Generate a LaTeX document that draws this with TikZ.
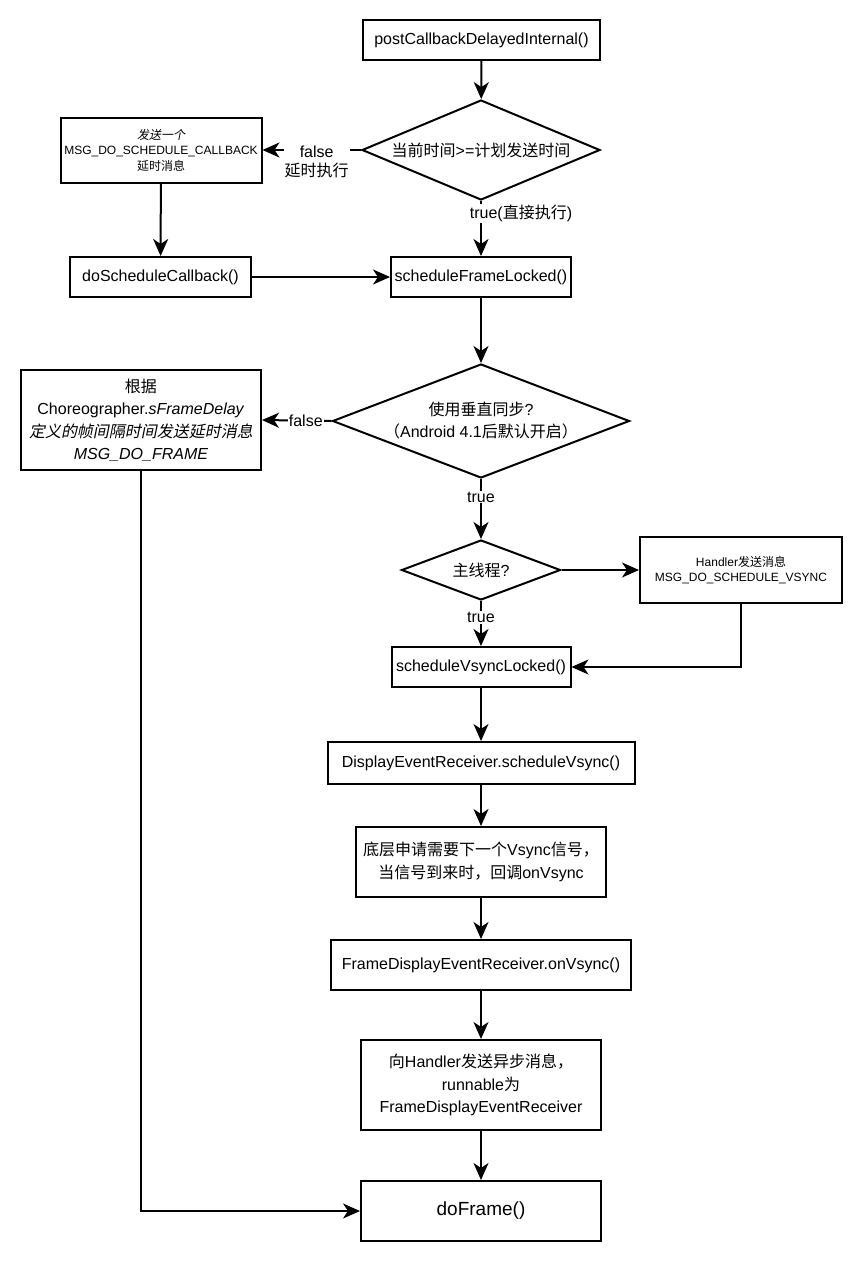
\documentclass[tikz,border=0pt]{standalone}
\usepackage{fontspec}
\setmainfont{Liberation Sans}
\newfontfamily\cjkfont{Noto Sans CJK SC}
\newfontfamily\cjkitfont{Noto Sans CJK SC}[FakeSlant=0.2]
\newcommand\zh[1]{{\cjkfont #1}}
\newcommand\zhi[1]{{\cjkitfont #1}}
\usetikzlibrary{arrows.meta,shapes.geometric}
\begin{document}
\begin{tikzpicture}[x=1pt,y=-1pt,
  box/.style={draw, line width=2pt, inner sep=0pt, align=center, font=\fontsize{16}{22.5}\selectfont},
  smallbox/.style={box, font=\fontsize{12}{15.5}\selectfont},
  dia/.style={draw, diamond, line width=2pt, inner sep=0pt},
  dtext/.style={align=center, font=\fontsize{16}{22}\selectfont},
  lbl/.style={fill=white, inner sep=1pt, align=center, font=\fontsize{16}{19}\selectfont},
  arr/.style={line width=2pt, -{Stealth[length=17pt, width=15pt, inset=5pt]}}]
\useasboundingbox (0,0) rectangle (862,1262);
\fill[white] (0,0) rectangle (862,1262);

\node[box, minimum width=237, minimum height=40] (post) at (481.5,40) {postCallbackDelayedInternal()};
\node[dia, minimum width=238, minimum height=100] (d1) at (481,150) {};
\node[dtext] (d1t) at (d1.center) {\zh{当前时间}>=\zh{计划发送时间}};
\node[smallbox, minimum width=201, minimum height=65] (msg1) at (161,150) {\zhi{发送一个}\\MSG\_DO\_SCHEDULE\_CALLBACK\\\zh{延时消息}};
\node[box, minimum width=181, minimum height=40] (dosch) at (160.5,277) {doScheduleCallback()};
\node[box, minimum width=180, minimum height=40] (sfl) at (481,277) {scheduleFrameLocked()};
\node[dia, minimum width=297, minimum height=114] (d2) at (481,421) {};
\node[dtext] (d2t) at (d2.center) {\zh{使用垂直同步}?\\\zh{（}Android 4.1\zh{后默认开启）}};
\node[box, minimum width=240, minimum height=100] (msgf) at (141,420) {\zh{根据}\\Choreographer.\textit{sFrameDelay}\\\zhi{定义的帧间隔时间发送延时消息}\\\textit{MSG\_DO\_FRAME}};
\node[dia, minimum width=159, minimum height=60] (d3) at (481,570) {};
\node[dtext] (d3t) at (d3.center) {\zh{主线程}?};
\node[smallbox, minimum width=202, minimum height=66] (hnd) at (741,570) {Handler\zh{发送消息}\\MSG\_DO\_SCHEDULE\_VSYNC};
\node[box, minimum width=179, minimum height=40] (svl) at (481,667) {scheduleVsyncLocked()};
\node[box, minimum width=307, minimum height=42] (desv) at (481,763) {DisplayEventReceiver.scheduleVsync()};
\node[box, minimum width=250, minimum height=70] (req) at (481,862) {\zh{底层申请需要下一个}Vsync\zh{信号，}\\\zh{当信号到来时，回调}onVsync};
\node[box, minimum width=300, minimum height=50] (fdv) at (481,965) {FrameDisplayEventReceiver.onVsync()};
\node[box, minimum width=240, minimum height=90] (async) at (481,1085) {\zh{向}Handler\zh{发送异步消息，}\\runnable\zh{为}\\FrameDisplayEventReceiver};
\node[box, minimum width=240, minimum height=60, font=\fontsize{19}{22}\selectfont] (df) at (481,1211) {doFrame()};

\draw[arr] (post) -- (d1);
\draw[arr] (d1.west) -- node[lbl, pos=0.45, yshift=-12pt] {false\\\zh{延时执行}} (msg1.east);
\draw[arr] (msg1) -- (dosch);
\draw[arr] (d1.south) -- node[lbl, pos=0.23, xshift=40pt] {true(\zh{直接执行})} (sfl.north);
\draw[arr] (dosch) -- (sfl);
\draw[arr] (sfl) -- (d2.north);
\draw[arr] (d2.west) -- node[lbl, pos=0.37] {false} (msgf.east);
\draw[arr] (d2.south) -- node[lbl, pos=0.3] {true} (d3.north);
\draw[arr] (d3.east) -- (hnd.west);
\draw[arr] (d3.south) -- node[lbl, pos=0.37] {true} (svl.north);
\draw[arr] (hnd.south) |- (svl.east);
\draw[arr] (svl) -- (desv);
\draw[arr] (desv) -- (req);
\draw[arr] (req) -- (fdv);
\draw[arr] (fdv) -- (async);
\draw[arr] (async) -- (df);
\draw[arr] (msgf.south) |- (df.west);
\end{tikzpicture}
\end{document}
